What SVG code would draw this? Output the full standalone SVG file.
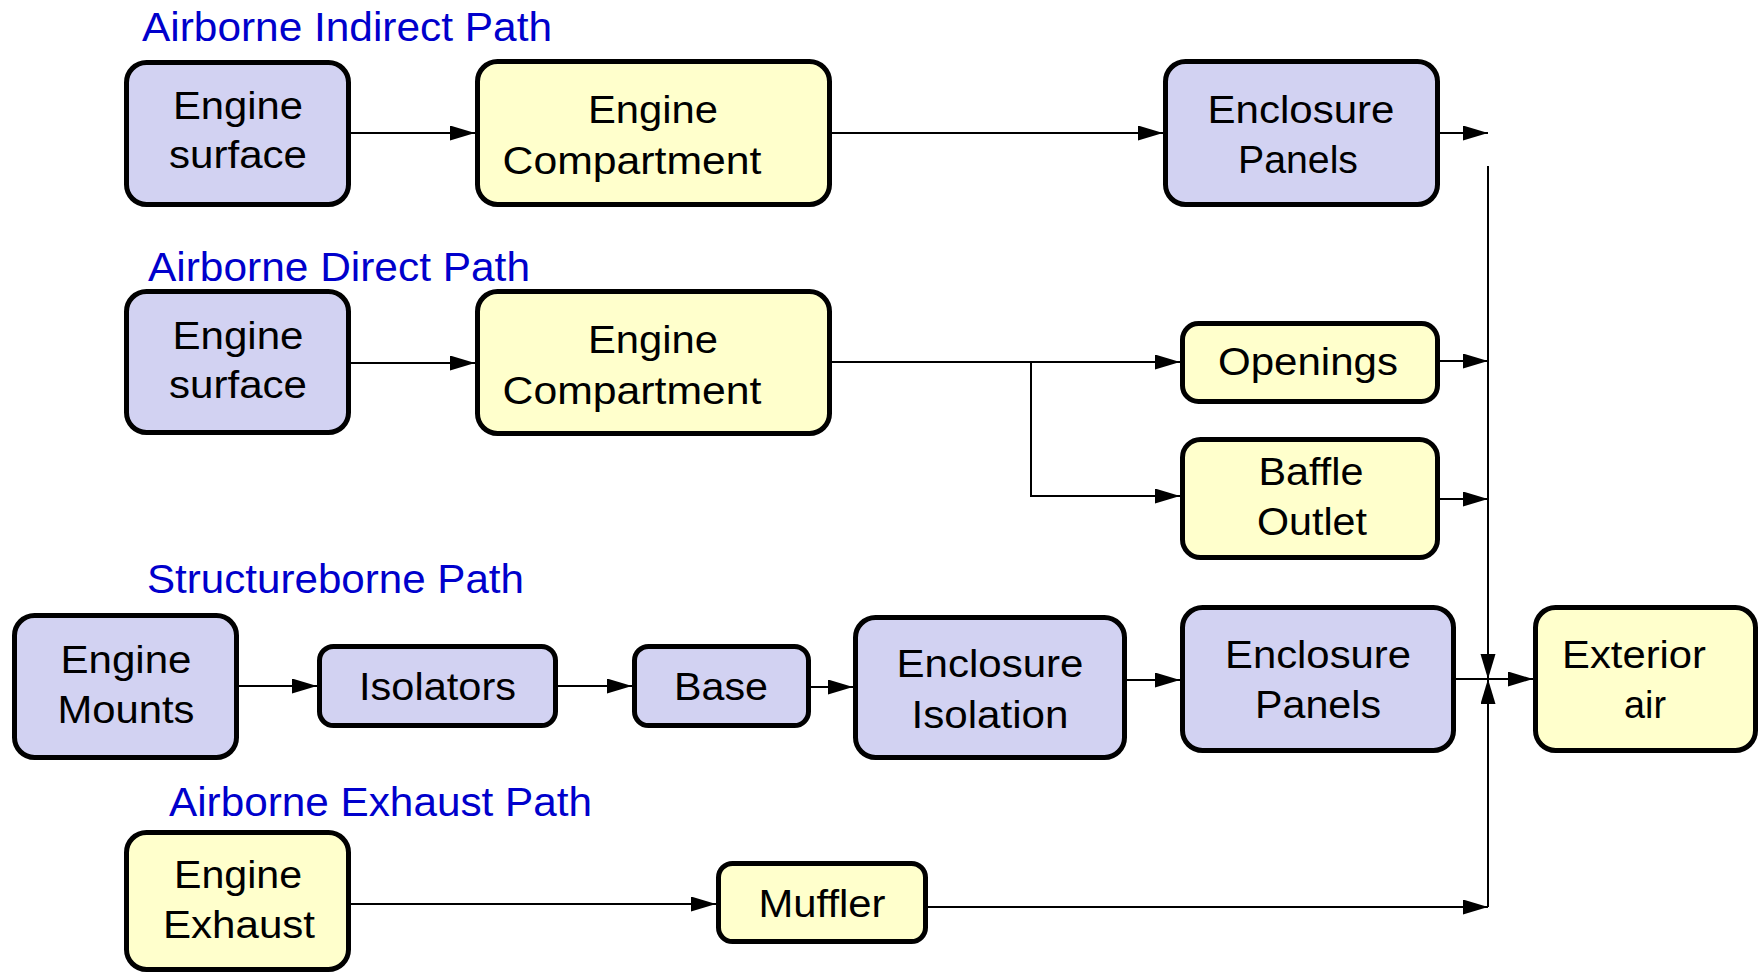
<svg xmlns="http://www.w3.org/2000/svg" width="1760" height="974" viewBox="0 0 1760 974">
<defs>
<style>
.b{fill:#D2D2F2;stroke:#000;stroke-width:5}
.y{fill:#FFFFCC;stroke:#000;stroke-width:5}
.t{font-family:"Liberation Sans",Arial,sans-serif;font-size:38px;fill:#000;text-anchor:middle}
.h{font-family:"Liberation Sans",Arial,sans-serif;font-size:41px;fill:#0000CC}
.c{fill:none;stroke:#000;stroke-width:2}
</style>
<marker id="a" markerUnits="userSpaceOnUse" markerWidth="25" markerHeight="16" refX="25" refY="7.5" orient="auto">
<path d="M0,0 L25,7.5 L0,15 Z" fill="#000"/>
</marker>
</defs>
<rect width="1760" height="974" fill="#fff"/>

<g id="titles">
<text class="h" x="142" y="41" textLength="410" lengthAdjust="spacingAndGlyphs">Airborne Indirect Path</text>
<text class="h" x="148" y="281" textLength="382" lengthAdjust="spacingAndGlyphs">Airborne Direct Path</text>
<text class="h" x="147" y="593" textLength="377" lengthAdjust="spacingAndGlyphs">Structureborne Path</text>
<text class="h" x="169" y="816" textLength="423" lengthAdjust="spacingAndGlyphs">Airborne Exhaust Path</text>
</g>

<g id="connectors">
<path class="c" d="M351,133 H475" marker-end="url(#a)"/>
<path class="c" d="M832,133 H1163" marker-end="url(#a)"/>
<path class="c" d="M1440,133 H1488" marker-end="url(#a)"/>
<path class="c" d="M351,363 H475" marker-end="url(#a)"/>
<path class="c" d="M832,362 H1180" marker-end="url(#a)"/>
<path class="c" d="M1031,362 V496 H1180" marker-end="url(#a)"/>
<path class="c" d="M1440,361 H1488" marker-end="url(#a)"/>
<path class="c" d="M1440,499 H1488" marker-end="url(#a)"/>
<path class="c" d="M1488,166 V679" marker-end="url(#a)"/>
<path class="c" d="M1488,907 V679" marker-end="url(#a)"/>
<path class="c" d="M239,686 H317" marker-end="url(#a)"/>
<path class="c" d="M558,686 H632" marker-end="url(#a)"/>
<path class="c" d="M811,687 H853" marker-end="url(#a)"/>
<path class="c" d="M1127,680 H1180" marker-end="url(#a)"/>
<path class="c" d="M1456,679 H1533" marker-end="url(#a)"/>
<path class="c" d="M351,904 H716" marker-end="url(#a)"/>
<path class="c" d="M928,907 H1488" marker-end="url(#a)"/>
</g>

<g id="engine-surface-1">
<rect class="b" x="126.5" y="62.5" width="222" height="142" rx="20"/>
<text class="t"><tspan x="238" y="119" textLength="130" lengthAdjust="spacingAndGlyphs">Engine</tspan><tspan x="238" y="168" textLength="138" lengthAdjust="spacingAndGlyphs">surface</tspan></text>
</g>
<g id="engine-compartment-1">
<rect class="y" x="477.5" y="61.5" width="352" height="143" rx="20"/>
<text class="t"><tspan x="653" y="123" textLength="130" lengthAdjust="spacingAndGlyphs">Engine</tspan><tspan x="632" y="174" textLength="259" lengthAdjust="spacingAndGlyphs">Compartment</tspan></text>
</g>
<g id="enclosure-panels-1">
<rect class="b" x="1165.5" y="61.5" width="272" height="143" rx="20"/>
<text class="t"><tspan x="1301" y="123" textLength="187" lengthAdjust="spacingAndGlyphs">Enclosure</tspan><tspan x="1298" y="173" textLength="120" lengthAdjust="spacingAndGlyphs">Panels</tspan></text>
</g>

<g id="engine-surface-2">
<rect class="b" x="126.5" y="291.5" width="222" height="141" rx="20"/>
<text class="t"><tspan x="238" y="349" textLength="131" lengthAdjust="spacingAndGlyphs">Engine</tspan><tspan x="238" y="398" textLength="138" lengthAdjust="spacingAndGlyphs">surface</tspan></text>
</g>
<g id="engine-compartment-2">
<rect class="y" x="477.5" y="291.5" width="352" height="142" rx="20"/>
<text class="t"><tspan x="653" y="353" textLength="130" lengthAdjust="spacingAndGlyphs">Engine</tspan><tspan x="632" y="404" textLength="259" lengthAdjust="spacingAndGlyphs">Compartment</tspan></text>
</g>
<g id="openings">
<rect class="y" x="1182.5" y="323.5" width="255" height="78" rx="16"/>
<text class="t" x="1308" y="375" textLength="180" lengthAdjust="spacingAndGlyphs">Openings</text>
</g>
<g id="baffle-outlet">
<rect class="y" x="1182.5" y="439.5" width="255" height="118" rx="18"/>
<text class="t"><tspan x="1311" y="485" textLength="105" lengthAdjust="spacingAndGlyphs">Baffle</tspan><tspan x="1312" y="535" textLength="110" lengthAdjust="spacingAndGlyphs">Outlet</tspan></text>
</g>

<g id="engine-mounts">
<rect class="b" x="14.5" y="615.5" width="222" height="142" rx="20"/>
<text class="t"><tspan x="126" y="673" textLength="131" lengthAdjust="spacingAndGlyphs">Engine</tspan><tspan x="126" y="723" textLength="137" lengthAdjust="spacingAndGlyphs">Mounts</tspan></text>
</g>
<g id="isolators">
<rect class="b" x="319.5" y="646.5" width="236" height="79" rx="14"/>
<text class="t" x="437.5" y="700" textLength="157" lengthAdjust="spacingAndGlyphs">Isolators</text>
</g>
<g id="base">
<rect class="b" x="634.5" y="646.5" width="174" height="79" rx="14"/>
<text class="t" x="721" y="700" textLength="94" lengthAdjust="spacingAndGlyphs">Base</text>
</g>
<g id="enclosure-isolation">
<rect class="b" x="855.5" y="617.5" width="269" height="140" rx="20"/>
<text class="t"><tspan x="990" y="677" textLength="187" lengthAdjust="spacingAndGlyphs">Enclosure</tspan><tspan x="990" y="728" textLength="157" lengthAdjust="spacingAndGlyphs">Isolation</tspan></text>
</g>
<g id="enclosure-panels-2">
<rect class="b" x="1182.5" y="607.5" width="271" height="143" rx="20"/>
<text class="t"><tspan x="1318" y="668" textLength="186" lengthAdjust="spacingAndGlyphs">Enclosure</tspan><tspan x="1318" y="718" textLength="126" lengthAdjust="spacingAndGlyphs">Panels</tspan></text>
</g>
<g id="exterior-air">
<rect class="y" x="1535.5" y="607.5" width="220" height="143" rx="20"/>
<text class="t"><tspan x="1634" y="668" textLength="144" lengthAdjust="spacingAndGlyphs">Exterior</tspan><tspan x="1645" y="718" textLength="42" lengthAdjust="spacingAndGlyphs">air</tspan></text>
</g>

<g id="engine-exhaust">
<rect class="y" x="126.5" y="832.5" width="222" height="137" rx="20"/>
<text class="t"><tspan x="238" y="888" textLength="128" lengthAdjust="spacingAndGlyphs">Engine</tspan><tspan x="239" y="938" textLength="152" lengthAdjust="spacingAndGlyphs">Exhaust</tspan></text>
</g>
<g id="muffler">
<rect class="y" x="718.5" y="863.5" width="207" height="78" rx="14"/>
<text class="t" x="822" y="917" textLength="127" lengthAdjust="spacingAndGlyphs">Muffler</text>
</g>
</svg>
